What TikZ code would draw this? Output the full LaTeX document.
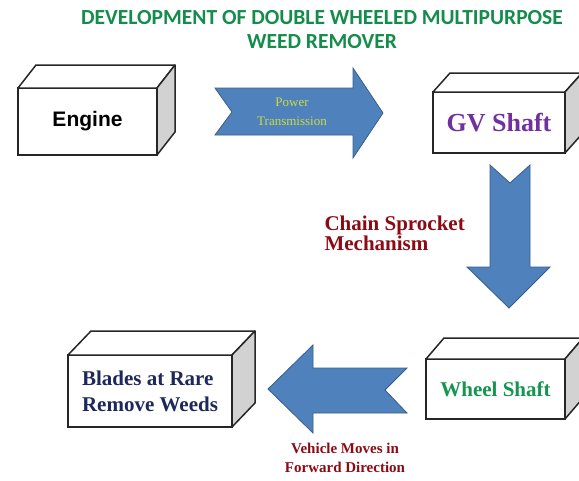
\documentclass[tikz,border=0pt]{standalone}
\usepackage{fontspec}
\setmainfont{Liberation Serif}
\newfontfamily\titlefont{Carlito}
\newfontfamily\enginefont{Liberation Sans}
\usetikzlibrary{calc}
\definecolor{titlegreen}{RGB}{20,140,75}
\definecolor{arrowblue}{RGB}{79,129,189}
\definecolor{arrowedge}{RGB}{56,93,138}
\definecolor{sidegray}{RGB}{210,210,210}
\definecolor{gvpurple}{RGB}{112,48,160}
\definecolor{wheelgreen}{RGB}{20,150,80}
\definecolor{bladenavy}{RGB}{31,40,90}
\definecolor{labelred}{RGB}{140,10,20}
\definecolor{powertext}{RGB}{205,220,60}
\tikzset{
    box/.style={draw=black!85, line width=1.5pt, fill=white, inner sep=0pt, outer sep=0pt, align=center},
    boxface/.style={draw=black!85, line width=1.5pt, line join=round},
    blockarrow/.style={fill=arrowblue, draw=arrowedge, line width=0.8pt, line join=miter}
}
\begin{document}
\begin{tikzpicture}[x=1pt, y=-1pt]
            \useasboundingbox (0,0) rectangle (579,480);
            \node[font=\titlefont\bfseries\fontsize{21.5}{24}\selectfont, text=titlegreen, align=center] (title) at (322,30)
                {DEVELOPMENT OF DOUBLE WHEELED MULTIPURPOSE\\WEED REMOVER};
            \node[box, minimum width=139pt, minimum height=67pt, font=\enginefont\bfseries\fontsize{21}{24}\selectfont] (engine) at (87.5,121.5) {Engine};
            \node[box, minimum width=132pt, minimum height=61pt, font=\bfseries\fontsize{26}{30}\selectfont, text=gvpurple] (gv) at (499,122.5) {GV Shaft};
            \node[box, minimum width=139pt, minimum height=60pt, font=\bfseries\fontsize{21}{25}\selectfont, text=wheelgreen] (wheel) at (495.5,389) {Wheel Shaft};
            \node[box, minimum width=164pt, minimum height=72pt, font=\bfseries\fontsize{21}{26}\selectfont, text=bladenavy, align=left] (blades) at (150,391) {Blades at Rare\\Remove Weeds};
            \foreach \n/\dx/\dy in {engine/18/23, gv/17/19, wheel/18/21, blades/23/24} {
                \draw[boxface, fill=white] (\n.north west) -- ++(\dx,-\dy) -- ($(\n.north east)+(\dx,-\dy)$) -- (\n.north east) -- cycle;
                \draw[boxface, fill=sidegray] (\n.north east) -- ++(\dx,-\dy) -- ($(\n.south east)+(\dx,-\dy)$) -- (\n.south east) -- cycle;
            }
            \draw[blockarrow] (215,88) -- (353,88) -- (353,68) -- (383,113) -- (353,158) -- (353,135) -- (215,135) -- (232,112) -- cycle;
            \draw[blockarrow] (490,165) -- (510,183) -- (530,165) -- (530,267) -- (550,267) -- (509,308) -- (467,267) -- (490,267) -- cycle;
            \draw[blockarrow] (268,389) -- (313,345) -- (313,368) -- (407,368) -- (385,390) -- (407,413) -- (313,413) -- (313,433) -- cycle;
            \node[font=\fontsize{13}{19}\selectfont, text=powertext, align=center] (power) at (292,112) {Power\\Transmission};
            \node[font=\bfseries\fontsize{21}{18}\selectfont, text=labelred, align=left, anchor=west] (chain) at (321,233) {Chain Sprocket\\Mechanism};
            \node[font=\bfseries\fontsize{15}{19}\selectfont, text=labelred, align=center] (vehicle) at (345,458) {Vehicle Moves in\\Forward Direction};
        \end{tikzpicture}
\end{document}
